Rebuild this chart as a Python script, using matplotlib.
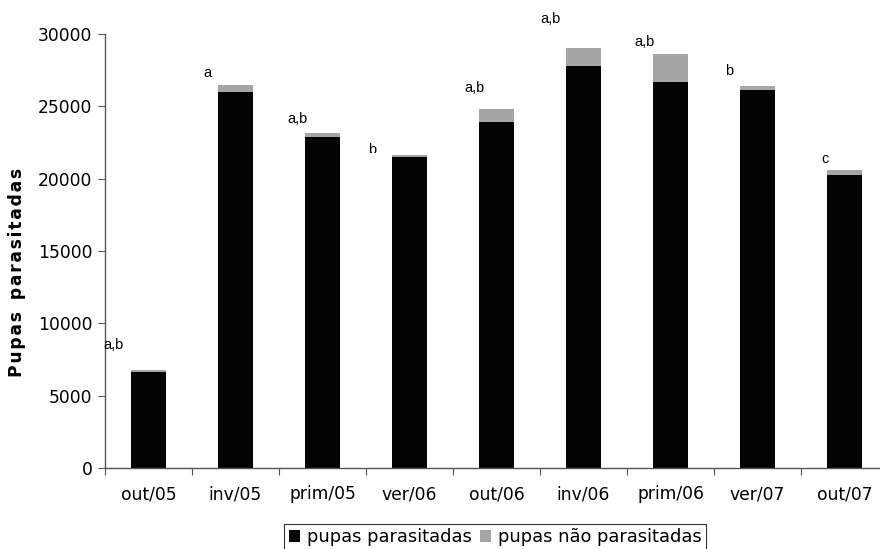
import numpy as np
import matplotlib.pyplot as plt
from matplotlib.transforms import Bbox

plt.rcParams["font.family"] = "DejaVu Sans"

# data
periodos = ["out/05", "inv/05", "prim/05", "ver/06", "out/06",
            "inv/06", "prim/06", "ver/07", "out/07"]
parasitadas = [6650, 26000, 22850, 21500, 23900, 27800, 26700, 26150, 20250]
nao_parasitadas = [110, 470, 320, 140, 900, 1250, 1950, 280, 350]
letras = ["a,b", "a", "a,b", "b", "a,b", "a,b", "a,b", "b", "c"]

# where the letters sit (x in category units, y in data units)
letra_x = [-0.52, 0.63, 1.6, 2.52, 3.63, 4.51, 5.59, 6.63, 7.73]
letra_y = [8500, 27300, 24100, 21950, 26250, 31050, 29450, 27450, 21350]

x = np.arange(len(periodos))

fig = plt.figure(figsize=(8.8, 5.49), dpi=100)
ax = fig.add_axes([0.1193, 0.1475, 0.8898, 0.7905])

ax.bar(x, parasitadas, width=0.41, color="#030303", label="pupas parasitadas")
ax.bar(x, nao_parasitadas, width=0.41, bottom=parasitadas, color="#a6a6a6",
       label="pupas não parasitadas")

ax.set_xlim(-0.5, len(periodos) - 0.5)
ax.set_ylim(0, 30000)
ax.set_yticks(np.arange(0, 30001, 5000))

# ticks between categories, labels centred under the bars
ax.set_xticks(np.arange(-0.5, len(periodos), 1))
ax.set_xticklabels([])
ax.set_xticks(x, minor=True)
ax.set_xticklabels(periodos, minor=True)
ax.tick_params(axis="x", which="minor", length=0, pad=12.5, labelsize=12.3)
ax.tick_params(axis="x", which="major", length=5, direction="out", color="#555555")
ax.tick_params(axis="y", length=5, direction="out", color="#555555", labelsize=12.3, pad=4)

for s in ["top", "right"]:
    ax.spines[s].set_visible(False)
for s in ["left", "bottom"]:
    ax.spines[s].set_color("#555555")
    ax.spines[s].set_linewidth(1.0)

# slightly spread-out letters, as in the original
rotulo = "\u200a".join("Pupas parasitadas").replace("\u200a \u200a", "  ")
ax.set_ylabel(rotulo, fontsize=12.3, fontweight="bold")
ax.yaxis.set_label_coords(-0.101, 0.45)

for i, t in enumerate(letras):
    txt = ax.text(letra_x[i], letra_y[i], t, fontsize=10.5, family="Liberation Sans",
                  ha="left", va="center", clip_on=False)
    if i == 3:
        # this label is cut off in the original
        txt.set_clip_on(True)
        txt.set_clip_box(Bbox.from_extents(0, 549 - 153, 880, 549))

leg = fig.legend(loc="upper center", bbox_to_anchor=(0.5625, 0.0455), ncol=2,
                 fontsize=12.9, frameon=True, fancybox=False, edgecolor="black",
                 handlelength=0.65, handleheight=0.65, handletextpad=0.35,
                 columnspacing=0.45, borderpad=0.25, borderaxespad=0)
leg.get_frame().set_linewidth(0.8)

fig.savefig("out.png", dpi=100)
